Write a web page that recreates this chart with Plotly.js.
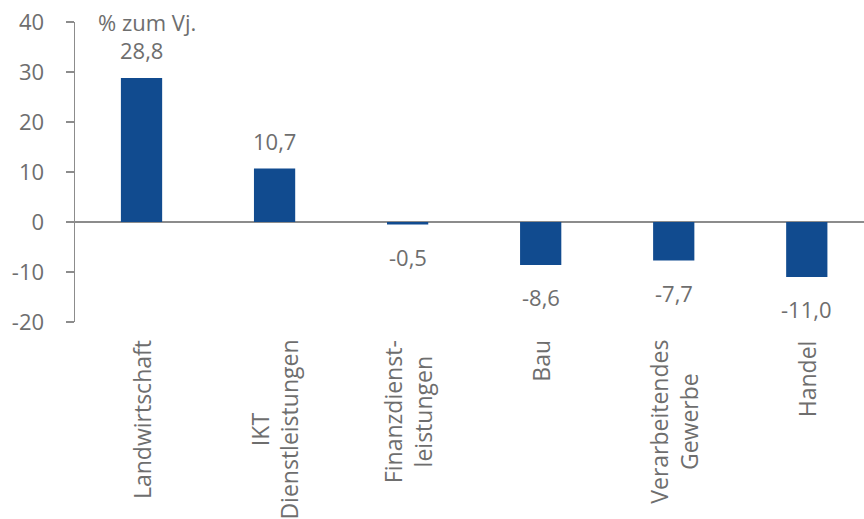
<!DOCTYPE html>
<html>
<head>
<meta charset="utf-8">
<script src="https://cdn.plot.ly/plotly-3.0.1.min.js"></script>
<style>
  html, body { margin: 0; padding: 0; background: #fff; }
  #chart { width: 864px; height: 519px; }
</style>
</head>
<body>
<div id="chart"></div>
<script>
// Sectors and year-on-year change in percent
const categories = ['Landwirtschaft', 'IKT Dienstleistungen', 'Finanzdienstleistungen', 'Bau', 'Verarbeitendes Gewerbe', 'Handel'];
const categoryLabels = ['Landwirtschaft', 'IKT<br>Dienstleistungen', 'Finanzdienst-<br>leistungen', 'Bau', 'Verarbeitendes<br>Gewerbe', 'Handel'];
const values = [28.8, 10.7, -0.5, -8.6, -7.7, -11.0];
const yTicks = [-20, -10, 0, 10, 20, 30, 40];
const unitLabel = '% zum Vj.';

const textColor = '#6e6e6e';
const axisColor = '#8c8c8c';
const barColor = '#114b8f';
const fontFamily = '"Open Sans", "Noto Sans", sans-serif';
const fontSize = 22;
const categoryFontSize = 23;

const fmt = v => v.toFixed(1).replace('.', ',');

const trace = {
  type: 'bar',
  x: categories,
  y: values,
  width: 0.31,
  marker: { color: barColor, line: { width: 0 } },
  hoverinfo: 'skip'
};

// Value labels above positive bars, below negative bars
const valueAnnotations = categories.map((c, i) => ({
  x: c, y: values[i], xref: 'x', yref: 'y',
  text: fmt(values[i]),
  showarrow: false,
  xanchor: 'center',
  yanchor: values[i] >= 0 ? 'bottom' : 'top',
  yshift: values[i] >= 0 ? 11 : -15,
  font: { family: fontFamily, size: fontSize, color: textColor }
}));

// Rotated, centred category labels under the plot
const categoryAnnotations = categories.map((c, i) => ({
  x: c, y: 0, xref: 'x', yref: 'paper',
  text: categoryLabels[i],
  showarrow: false,
  textangle: -90,
  align: 'center',
  xanchor: 'center',
  yanchor: 'top',
  yshift: -16,
  font: { family: fontFamily, size: categoryFontSize, color: textColor }
}));

const unitAnnotation = {
  x: 0.027, y: 1.0, xref: 'paper', yref: 'paper',
  text: unitLabel, showarrow: false,
  xanchor: 'left', yanchor: 'middle',
  font: { family: fontFamily, size: fontSize, color: textColor }
};

const layout = {
  width: 864, height: 519,
  margin: { l: 75, r: 0, t: 22, b: 197, pad: 0 },
  paper_bgcolor: '#ffffff', plot_bgcolor: '#ffffff',
  showlegend: false,
  font: { family: fontFamily, size: fontSize, color: textColor },
  xaxis: {
    type: 'category',
    range: [-0.5, 5.43],
    showticklabels: false,
    showgrid: false,
    showline: false,
    zeroline: false,
    ticks: ''
  },
  yaxis: {
    range: [-20, 40],
    tickvals: yTicks,
    ticktext: yTicks.map(String),
    showgrid: false,
    showline: true,
    linecolor: axisColor,
    linewidth: 1.5,
    ticks: 'outside',
    ticklen: 8,
    tickwidth: 1.5,
    tickcolor: axisColor,
    ticklabelstandoff: 17,
    zeroline: true,
    zerolinecolor: axisColor,
    zerolinewidth: 1.5,
    tickfont: { family: fontFamily, size: fontSize, color: textColor }
  },
  annotations: [unitAnnotation].concat(valueAnnotations, categoryAnnotations)
};

Plotly.newPlot('chart', [trace], layout, { staticPlot: true, displayModeBar: false });
</script>
</body>
</html>
